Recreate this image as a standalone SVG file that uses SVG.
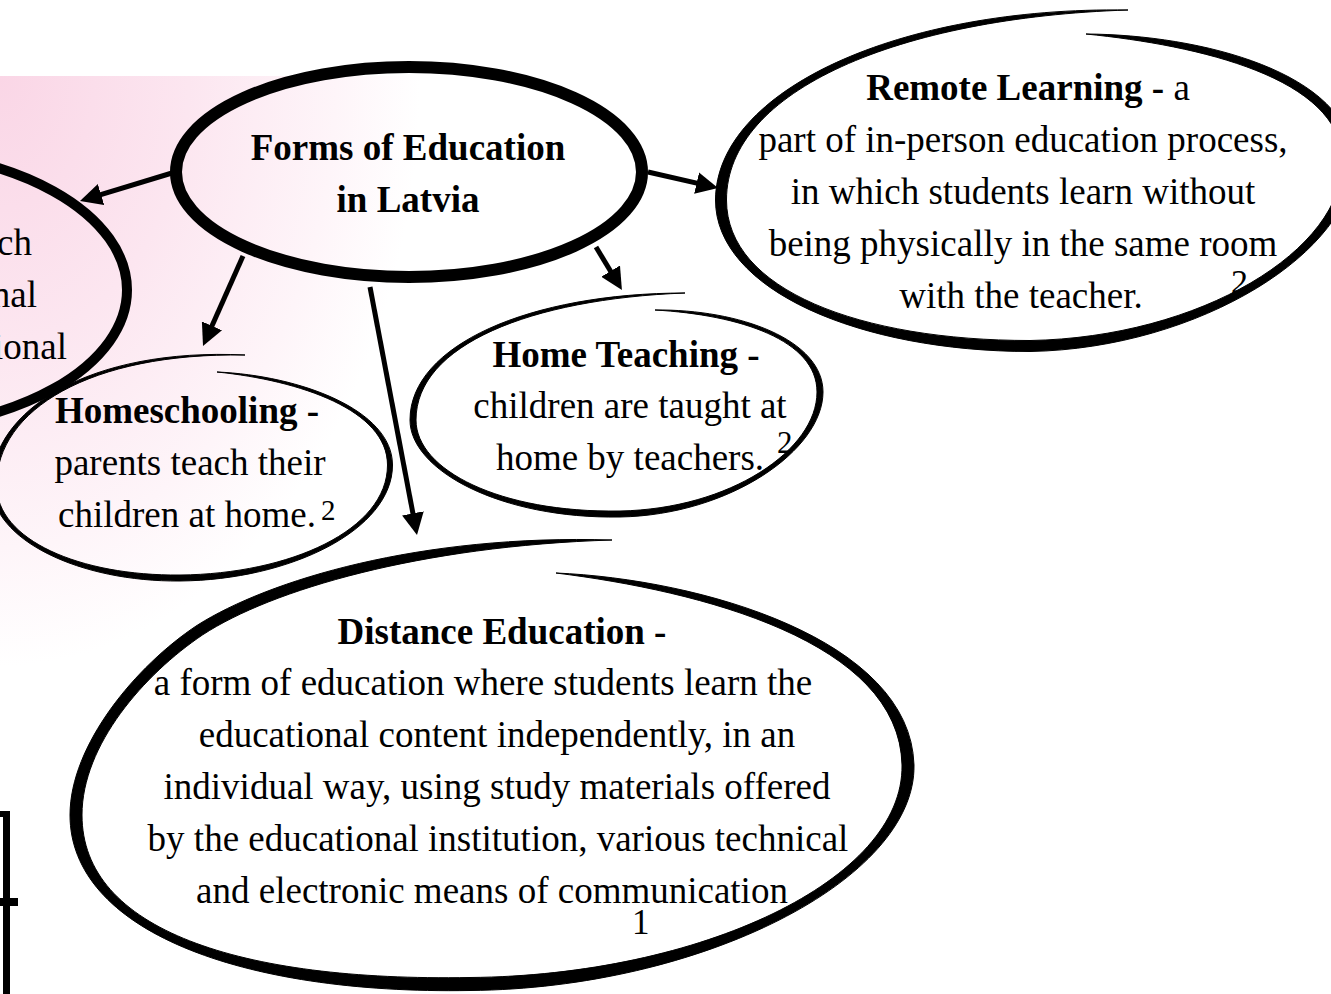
<svg xmlns="http://www.w3.org/2000/svg" width="1331" height="994" viewBox="0 0 1331 994">
  <defs>
    <radialGradient id="pinkWash" cx="0" cy="0" r="1" fx="0" fy="0">
      <stop offset="0" stop-color="#fad6e6"/>
      <stop offset="0.45" stop-color="#fce6f0"/>
      <stop offset="0.8" stop-color="#fef5f9"/>
      <stop offset="1" stop-color="#ffffff"/>
    </radialGradient>
    <marker id="ah" viewBox="0 0 22 22" markerWidth="22" markerHeight="22" refX="8" refY="11" orient="auto" markerUnits="userSpaceOnUse">
      <path d="M0,0 L22,11 L0,22 z" fill="#000"/>
    </marker>
    <style>
      .t { font-family: "Liberation Serif", "Times New Roman", serif; font-size: 37px; fill: #000; text-anchor: middle; }
      .b { font-weight: bold; }
      .end { text-anchor: end; }
      .sup { font-family: "Liberation Serif", "Times New Roman", serif; fill: #000; text-anchor: start; }
      .brush { fill: #000; stroke: #000; stroke-width: 1; stroke-linejoin: round; }
      .ring { fill: none; stroke: #000; }
      .arrow { fill: none; stroke: #000; stroke-width: 5; marker-end: url(#ah); }
    </style>
  </defs>

  <rect width="1331" height="994" fill="#fff"/>
  <rect x="0" y="76" width="420" height="590" fill="url(#pinkWash)"/>

  <!-- frame fragment, lower left -->
  <g id="frame-fragment" fill="#000">
    <rect x="0" y="811" width="10" height="6"/>
    <rect x="3" y="811" width="7" height="183"/>
    <rect x="0" y="898" width="18" height="8"/>
  </g>

  <!-- connectors -->
  <g id="connectors">
    <line class="arrow" x1="172" y1="173" x2="93.4" y2="196.9"/>
    <line class="arrow" x1="243" y1="256" x2="208.7" y2="333.2"/>
    <line class="arrow" x1="370" y1="287" x2="414.4" y2="521.2"/>
    <line class="arrow" x1="596" y1="247" x2="614.7" y2="278"/>
    <line class="arrow" x1="648" y1="172" x2="704.4" y2="184.9"/>
  </g>

  <!-- partially visible node on the left edge -->
  <g id="node-left">
    <text class="t end" x="32" y="255">ch</text>
    <text class="t end" x="37" y="307">nal</text>
    <text class="t end" x="67" y="359">ional</text>
    <ellipse class="ring" cx="-125" cy="290" rx="252" ry="140" stroke-width="10"/>
  </g>

  <!-- central topic -->
  <g id="node-forms">
    <ellipse class="ring" cx="409" cy="172" rx="233" ry="105" stroke-width="12"/>
    <text class="t b" x="408" y="160">Forms of Education</text>
    <text class="t b" x="408" y="212">in Latvia</text>
  </g>

  <!-- Remote Learning -->
  <g id="node-remote">
    <text class="t" x="1028" y="100"><tspan class="b">Remote Learning -</tspan> a</text>
    <text class="t" x="1023" y="152">part of in-person education process,</text>
    <text class="t" x="1023" y="204">in which students learn without</text>
    <text class="t" x="1023" y="256">being physically in the same room</text>
    <text class="t" x="1021" y="308">with the teacher.</text>
    <text class="sup" x="1231" y="293" style="font-size:34px">2</text>
    <path class="brush" d="M1086,34 C1201.1,34.6 1349.5,72.5 1353.5,160 C1355.5,250 1200,348.5 1030,351.5 C860,351.5 715.5,290 715.5,200 C716,90 900,6.5 1128,10 C900,17.5 726.5,90 726.5,200 C726.5,290 860,340.5 1030,340.5 C1200,337.5 1344.5,250 1342.5,160 C1340.5,77.5 1198.9,45.4 1086,34 Z"/>
  </g>

  <!-- Home Teaching -->
  <g id="node-home-teaching">
    <text class="t b" x="626" y="367">Home Teaching -</text>
    <text class="t" x="630" y="418">children are taught at</text>
    <text class="t" x="630" y="470">home by teachers.</text>
    <text class="sup" x="777" y="453" style="font-size:31px">2</text>
    <path class="brush" d="M655,310 C740,309 823,340 823,392 C823,450 730,515 620,517 C500,519 410,470 410,420 C410,345 530,293 685,293 C530,299 416,345 416,420 C416,470 500,513 620,511 C730,509 817,450 817,392 C817,340 740,315 655,310 Z"/>
  </g>

  <!-- Homeschooling -->
  <g id="node-homeschooling">
    <text class="t b" x="187" y="423">Homeschooling -</text>
    <text class="t" x="190" y="475">parents teach their</text>
    <text class="t" x="187" y="527">children at home.</text>
    <text class="sup" x="321" y="520" style="font-size:29px">2</text>
    <path class="brush" d="M217,372 C300,375.5 392.5,410 392.5,465 C392.5,530 290,580 180,581 C80,582 -8.5,540 -8.5,485 C-8.5,410 90,347.5 245,355 C90,352.5 -3.5,410 -3.5,485 C-3.5,540 80,576 180,575 C290,574 387.5,530 387.5,465 C387.5,410 300,380.5 217,372 Z"/>
  </g>

  <!-- Distance Education -->
  <g id="node-distance">
    <text class="t b" x="502" y="644">Distance Education -</text>
    <text class="t" x="483" y="695">a form of education where students learn the</text>
    <text class="t" x="497" y="747">educational content independently, in an</text>
    <text class="t" x="497" y="799">individual way, using study materials offered</text>
    <text class="t" x="498" y="851">by the educational institution, various technical</text>
    <text class="t" x="492" y="903">and electronic means of communication</text>
    <text class="sup" x="632" y="934" style="font-size:35px">1</text>
    <path class="brush" d="M556,573 C700,579 910.5,639 914,765 C916,880 700,988.5 470,990.5 C240,994.5 70,930 70,815 C70,745 135.8,665.8 197.3,625.2 C268.5,580.2 420,534 612,540 C420,546 271.5,589.8 202.7,634.8 C144.2,674.2 82,745 82,815 C82,930 240,981.5 470,977.5 C700,975.5 904,880 902,765 C899.5,641 700,591 556,573 Z"/>
  </g>
</svg>
